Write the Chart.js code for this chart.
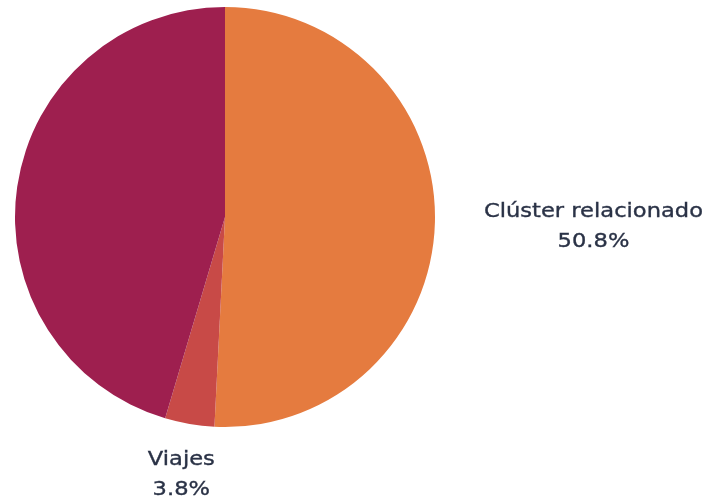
<!DOCTYPE html>
<html>
<head>
<meta charset="utf-8">
<script src="https://cdn.jsdelivr.net/npm/chart.js@4"></script>
<style>
  html, body { margin: 0; padding: 0; background: #fff; }
  #wrap { width: 703px; height: 499px; }
</style>
</head>
<body>
<div id="wrap"><canvas id="myChart"></canvas></div>
<script>
// data
var categories = ['Clúster relacionado', 'Viajes', 'Otros'];
var values = [50.8, 3.8, 45.4];
var showLabel = [true, true, false];
var sliceColors = ['#E57B3F', '#C84A47', '#9E1F4F'];

// how far the text box sits outside the rim, per slice
var labelGap = [49, 25, 0];
var stretch = 1.13; // the original face is wider than DejaVu

function wideText(ctx, txt, x, y) {
    ctx.save();
    ctx.translate(x, y);
    ctx.scale(stretch, 1);
    ctx.fillText(txt, 0, 0);
    ctx.strokeText(txt, 0, 0); // a touch heavier, like the original
    ctx.restore();
}

var outsideLabels = {
    id: 'outsideLabels',
    afterDatasetsDraw(chart) {
        const ctx = chart.ctx;
        const meta = chart.getDatasetMeta(0);
        ctx.save();
        ctx.font = '20px "DejaVu Sans"';
        ctx.fillStyle = '#2A3246';
        ctx.strokeStyle = '#2A3246';
        ctx.lineWidth = 0.35;
        ctx.textBaseline = 'middle';
        ctx.textAlign = 'center';
        meta.data.forEach((arc, i) => {
            if (!showLabel[i]) return;
            const mid = (arc.startAngle + arc.endAngle) / 2;
            const d = arc.outerRadius + labelGap[i];
            const x = arc.x + Math.cos(mid) * d;
            const y = arc.y + Math.sin(mid) * d;
            const lines = [chart.data.labels[i], values[i].toFixed(1) + '%'];
            const lh = 30;
            if (Math.abs(Math.cos(mid)) > Math.abs(Math.sin(mid))) {
                // side label: box starts at anchor, centred vertically
                const w = Math.max(...lines.map(l => ctx.measureText(l).width)) * stretch;
                const cxText = Math.cos(mid) > 0 ? x + w / 2 : x - w / 2;
                lines.forEach((l, k) => wideText(ctx, l, cxText, y - lh / 2 + k * lh + 3));
            } else {
                // top / bottom label: box hangs from anchor
                const top = Math.sin(mid) > 0 ? y + 11 : y - 11 - lh;
                lines.forEach((l, k) => wideText(ctx, l, x - 4, top + k * lh));
            }
        });
        ctx.restore();
    }
};

const CHART = document.getElementById('myChart');
let myChart = new Chart(CHART, {
    type: 'pie',
    data: {
        labels: categories,
        datasets: [{
            data: values,
            backgroundColor: sliceColors,
            borderWidth: 0
        }]
    },
    options: {
        responsive: true,
        maintainAspectRatio: false,
        animation: false,
        layout: { padding: { left: 15, top: 7, right: 268, bottom: 72 } },
        plugins: {
            legend: { display: false },
            tooltip: { enabled: false }
        }
    },
    plugins: [outsideLabels]
});
</script>
</body>
</html>
